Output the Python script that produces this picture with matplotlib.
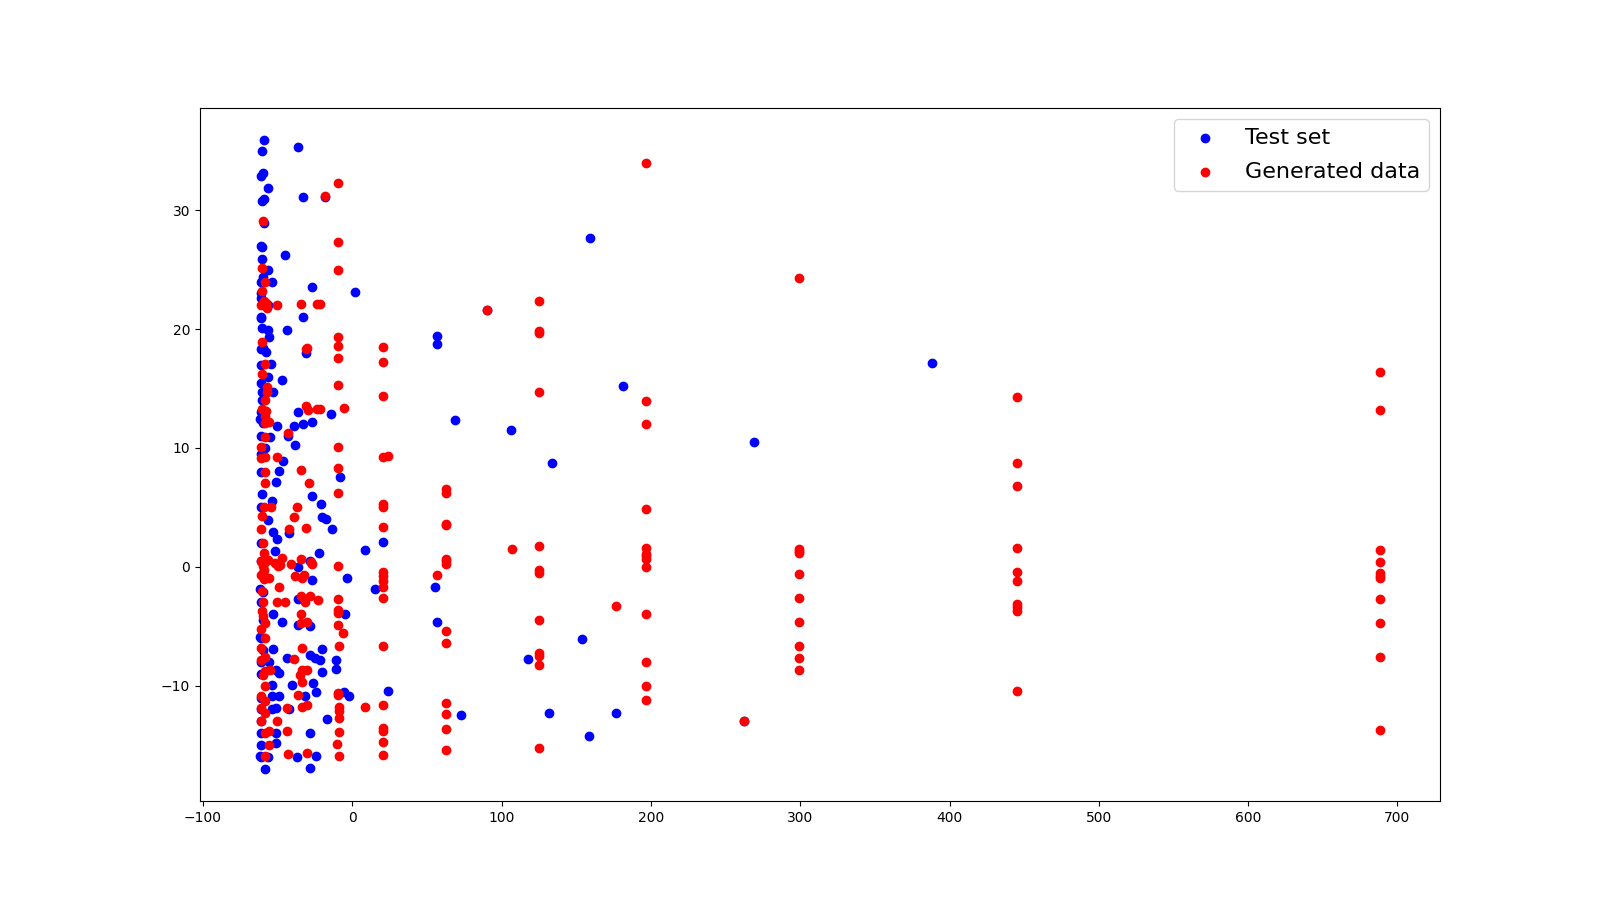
import matplotlib
matplotlib.use("Agg")
import matplotlib.pyplot as plt

# ---- Test set (blue) ----
test_x = [
    -59, -60.3, -59.6, -61, -56.7, -59.3, -60.5, -59.3, -60.3, -60.3, -56.5, -60, -53.8, -61, -61,
    -56.3, -61, -60.5, -56.2, -56, -60, -61, -58, -54.5, -56.3, -52.9, -60.5, -60.5, -61.5, -59.5,
    -50.6, -55, -58.5, -61, -51.1, -60.3, -53.8, -56.3, -52.9, -50.6, -51.8, -61, -60, -61.5, -59.5,
    -61, -52.9, -60, -61.5, -60, -53, -55.5, -51, -48.9, -61, -53.6, -53.6, -49, -61, -53.6,
    -51, -61, -51, -51, -61, -61.5, -56.5, -58.5, -61, -61, -61, -61, -61, -61, -61,
    -61, -61, -61, -61, -61, -61, -61, -61,
    -36.2, -32.8, -18.3, -44.9, -26.8, 1.8, -32.8, -43.9, 57, 57, -31, -47.1, -36.2, -14.1, -39,
    -32.8, -26.8, -42.9, -38.2, -46.6, -48.9, -8.0, -26.8, -21, -20.3, -17.8, -13.4, -42.2, 8.5, 20.8,
    -22.3, -36.2, -28, 15.4, 55.5, -3.3, -26.8, -36.2, -4.7, 56.5, -46.9, -36.2, -28, -20.1, -43.9,
    -28.3, -25, -21.6, -10.7, -10.7, -20.5, -40.6, -26.5, -24.3, 24.1, -5.6, -2.0, -31.5, -42.3, -16.7,
    -28.3, -37.2, -24.3, -28.3, 90.4, 159.4, 181.5, 69, 106.5, 134, 73, 154, 117.9, 132,
    176.8, 158.7, 269.3, 388, 262.6,
]
test_y = [
    35.9, 35.0, 33.1, 32.9, 31.85, 30.95, 30.8, 28.9, 26.9, 25.9, 24.98, 24.4, 24.0, 24.0, 22.6,
    22.0, 20.9, 20.1, 19.9, 19.3, 18.4, 18.3, 18.05, 17.07, 16.0, 14.7, 14.7, 14.0, 12.45, 12.1,
    11.86, 10.96, 10.0, 8.0, 7.15, 6.14, 5.58, 3.95, 2.97, 2.33, 1.37, 0.5, -0.5, -1.85, -2.1,
    -3.0, -3.95, -4.5, -5.9, -7.0, -6.9, -8.0, -8.7, -8.9, -9.0, -9.95, -10.9, -10.9, -11.0, -12.0,
    -11.9, -13.0, -14.0, -14.8, -15.0, -15.9, -16.0, -17.0, 5.0, 9.5, 11.0, 13.0, 15.5, 17.0, 21.0,
    23.0, 27.0, 2.0, -6.0, -8.0, -12.0, -14.0, -16.0,
    35.3, 31.1, 31.1, 26.2, 23.5, 23.1, 21.0, 19.9, 19.4, 18.76, 18.0, 15.7, 13.0, 12.87, 11.86,
    12.0, 12.2, 11.0, 10.23, 8.94, 8.05, 7.54, 5.97, 5.3, 4.23, 4.04, 3.17, 2.88, 1.43, 2.08,
    1.15, -0.03, 0.5, -1.88, -1.7, -0.95, -1.09, -2.7, -3.95, -4.65, -4.68, -4.9, -5.0, -6.9, -7.63,
    -7.4, -7.68, -7.88, -7.82, -8.58, -8.86, -9.95, -9.78, -10.57, -10.43, -10.57, -10.85, -10.9, -12.0, -12.78,
    -13.99, -16.0, -15.9, -16.93, 21.6, 27.65, 15.2, 12.34, 11.5, 8.72, -12.5, -6.08, -7.76, -12.3,
    -12.3, -14.24, 10.49, 17.14, -12.98,
]

# ---- Generated data (red) ----
gen_x = [
    # left column
    -59.5, -60.5, -58.5, -60.5, -59, -58, -61, -57, -60.5, -58.5, -60.5, -57, -57, -58.5, -60.5,
    -58, -58.5, -56, -58.5, -58.5, -61, -58.5, -61, -58.5, -58.5, -59, -60.5, -61, -60, -56.5,
    -59, -61, -59, -60, -59, -61, -59, -60.5, -59.5, -60.5, -60, -58.5, -61, -58.5, -61,
    -58.5, -61, -58.5, -59.5, -58.5, -61, -58.5, -61, -58.5, -61, -56, -58.5, -56, -58.5,
    # scattered left
    -18.3, -31, -50.6, -34.2, -23.8, -21.6, -30.5, -31, -29.5, -23.8, -21.6, -42.9, -50.2, -34.2, -28.8,
    -54.4, -36.8, -39, -31, -42.2, -46.9, -34.2, -27.7, -40.9, -48.4, -26.8, -38.4, -33.9, -32.3, -48.9,
    -34.4, -28.3, -22.8, -31.7, -50.6, -45.1, -34.2, -34.2, -30.5, -33.9, -38.8, -33.9, -30.5, -35, -33.9,
    -36.2, -43.9, -33.9, -30.5, -50.6, -43.9, -42.9, -30.5, -55.5, -55, -52, -50, -5.4, -6.0, 8.5,
    # column near -9.6
    -9.6, -9.6, -9.6, -9.6, -9.6, -9.6, -9.6, -9.6, -9.6, -9.6, -9.6, -9.6, -9.6, -9.6, -9.6,
    -9.6, -9.6, -8.7, -8.7, -8.9, -8.9, -8.9, -10.0, -8.9,
    # column near 21
    20.8, 20.8, 20.8, 20.8, 24.1, 20.8, 20.8, 20.8, 20.8, 20.8, 20.8, 20.8, 20.8, 20.8, 20.8,
    20.8, 20.8, 20.8, 20.8,
    # column near 63
    63, 63, 63, 63, 63, 63, 63, 63, 63, 63, 63, 63, 63, 57, 107.2, 176.8, 90.4, 262.6,
    # column 125
    125, 125, 125, 125, 125, 125, 125, 125, 125, 125, 125, 125,
    # column 197
    197, 197, 197, 197, 197, 197, 197, 197, 197, 197, 197, 197, 197,
    # column 299
    299.4, 299.4, 299.4, 299.4, 299.4, 299.4, 299.4, 299.4, 299.4, 299.4,
    # column 446
    445.4, 445.4, 445.4, 445.4, 445.4, 445.4, 445.4, 445.4, 445.4, 445.4,
    # column 688
    688, 688, 688, 688, 688, 688, 688, 688, 688, 688, 688,
]
gen_y = [
    29.07, 25.1, 23.95, 23.2, 22.4, 22.2, 22.0, 21.8, 18.95, 17.07, 16.2, 15.1, 14.7, 14.0, 13.25,
    13.1, 12.7, 12.2, 12.1, 10.96, 10.07, 9.28, 9.14, 8.0, 7.03, 5.07, 4.3, 3.2, 2.0, 0.6,
    1.2, 0.5, 0.3, 0.1, -0.3, -0.7, -1.0, -2.0, -2.92, -3.7, -4.1, -4.74, -5.2, -6.0, -6.84,
    -7.6, -7.8, -8.8, -9.1, -10.0, -10.9, -11.3, -11.9, -12.3, -13.0, -13.85, -14.0, -15.0, -15.9,
    31.2, 18.3, 22.0, 22.1, 22.1, 22.1, 18.4, 13.5, 13.2, 13.3, 13.3, 11.24, 9.23, 8.16, 7.03,
    5.07, 5.07, 4.23, 3.25, 3.22, 0.73, 0.67, 0.4, 0.25, 0.17, 0.25, -0.76, -0.95, -0.67, -1.66,
    -2.44, -2.44, -2.78, -2.92, -2.92, -2.92, -3.95, -4.74, -4.68, -6.84, -7.74, -8.66, -8.66, -9.08, -9.65,
    -10.77, -11.88, -11.83, -11.66, -13.0, -13.85, -15.73, -15.62, -0.9, -8.7, 0.3, 0.1, 13.35, -5.58, -11.75,
    32.3, 27.3, 25.0, 19.3, 18.6, 17.55, 15.3, 10.07, 8.3, 6.25, 0.11, -2.72, -3.6, -3.9, -4.88,
    -10.77, -10.62, -6.64, -11.75, -12.17, -12.73, -13.9, -14.9, -15.9,
    18.5, 17.2, 14.4, 9.23, 9.34, 5.3, 5.07, 3.39, -0.46, -0.8, -1.15, -1.66, -2.64, -6.64, -11.6,
    -13.57, -13.85, -14.75, -15.8,
    6.53, 6.25, 3.64, 3.5, 0.67, 0.45, 0.23, -5.41, -6.42, -11.47, -12.39, -13.65, -15.42, -0.7, 1.49, -3.3, 21.6, -12.98,
    22.4, 19.8, 19.65, 14.7, 1.74, -0.25, -0.53, -4.48, -7.26, -7.54, -8.27, -15.25,
    34.0, 13.94, 12.0, 4.85, 1.6, 1.1, 0.9, 0.7, 0.0, -3.98, -8.0, -10.0, -11.2,
    24.28, 1.5, 1.35, 1.15, -0.62, -2.64, -4.65, -6.67, -7.68, -8.69,
    14.3, 8.76, 6.79, 1.6, -0.46, -1.15, -3.1, -3.4, -3.7, -10.43,
    16.35, 13.18, 1.43, 0.4, -0.54, -0.8, -0.97, -2.7, -4.69, -7.6, -13.7,
]

fig, ax = plt.subplots(figsize=(16, 9), dpi=100)
ax.scatter(test_x, test_y, color="blue", label="Test set")
ax.scatter(gen_x, gen_y, color="red", label="Generated data")
ax.set_xlim(-102, 728.5)
ax.set_ylim(-19.7, 38.6)
ax.legend(loc="upper right", fontsize=16, labelspacing=0.62)
fig.savefig("out.png", dpi=100)
